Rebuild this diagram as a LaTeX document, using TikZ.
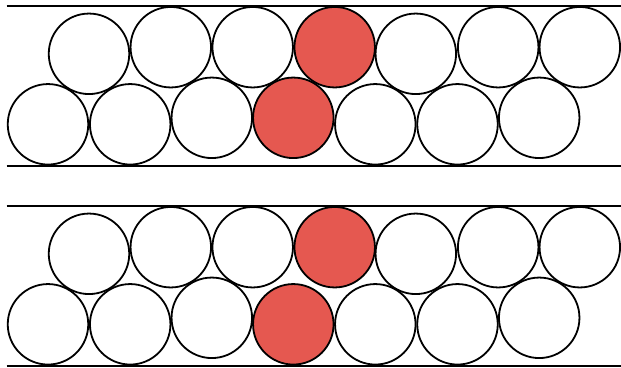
\documentclass[tikz,border=0pt]{standalone}
\usetikzlibrary{positioning}
\definecolor{ballred}{RGB}{229,88,80}
\tikzset{
  ball/.style={circle, draw, line width=1.8bp, fill=white, minimum size=80.5bp, inner sep=0pt},
  hot ball/.style={ball, fill=ballred},
  wall/.style={line width=2bp},
}

\begin{document}
\begin{tikzpicture}[x=1bp, y=-1bp]
  \useasboundingbox (0,0) rectangle (621,367);

  % Two channels: the lower red ball sits higher in the first one
  \foreach \p/\dy/\ry in {up/0/117.8, dn/200/124.3} {
    % Walls
    \draw[wall] (6.7,5.7+\dy) coordinate (\p-wl) -- (621,5.7+\dy) coordinate (\p-wr);
    \draw[wall] (6.7,165.5+\dy) coordinate (\p-fl) -- (621,165.5+\dy) coordinate (\p-fr);

    % Top row
    \foreach \i/\x/\y in {1/89/53.8, 2/170.8/47.2, 3/252.7/47.2, 5/415.8/53.8, 6/498.2/47.2, 7/579.8/47.2}
      \node[ball] (\p-t\i) at (\x,\y+\dy) {};
    \node[hot ball] (\p-t4) at (334.7,47.2+\dy) {};

    % Bottom row
    \foreach \i/\x/\y in {1/48/124.3, 2/130.2/124.3, 3/211.8/117.8, 5/375.3/124.3, 6/457.5/124.3, 7/539.2/117.8}
      \node[ball] (\p-b\i) at (\x,\y+\dy) {};
    \node[hot ball] (\p-b4) at (293.3,\ry+\dy) {};
  }
\end{tikzpicture}
\end{document}
